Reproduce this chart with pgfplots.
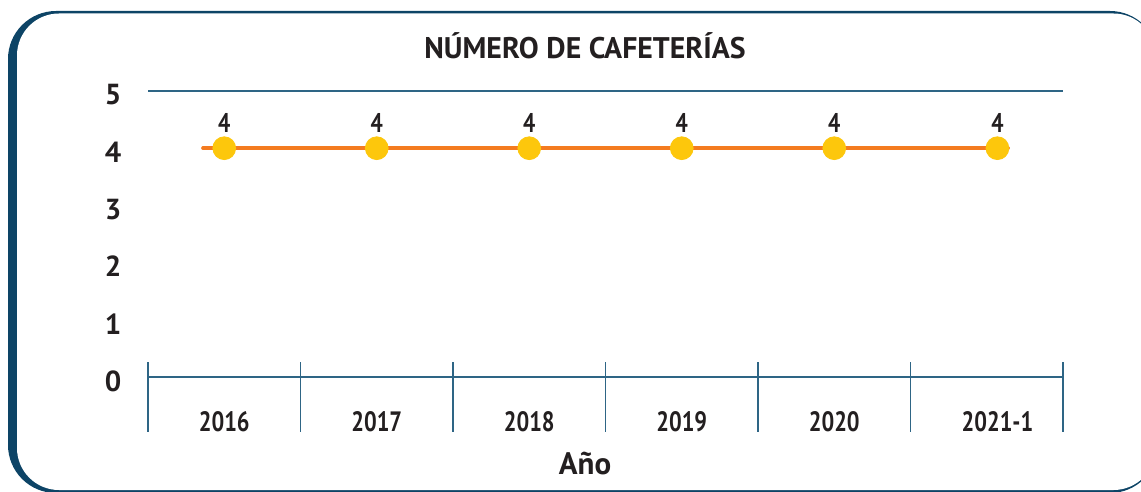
\documentclass[border=0pt]{standalone}
\usepackage{pgfplots}
\pgfplotsset{compat=1.18}
\usepackage{fontspec}
\setmainfont{PT Sans}
\newfontfamily\cond[FakeStretch=0.8]{PT Sans}
\definecolor{navy}{HTML}{0D4466}
\definecolor{gridblue}{HTML}{2E6585}
\definecolor{lineorange}{HTML}{F47B20}
\definecolor{dotyellow}{HTML}{FDC70C}
\definecolor{textdark}{HTML}{231F20}
\begin{document}
\begin{tikzpicture}
\useasboundingbox (0,0) rectangle (570.5pt,-246pt);
\begin{scope}[x=0.5pt,y=-0.5pt]
  \clip (0,0) rectangle (1141,492);
  \fill[navy] (8,11) [rounded corners=24pt] rectangle (1158,493);
  \fill[white] (17,13.5) [rounded corners=21pt] rectangle (1155.5,490);
  \node[text=textdark, font=\bfseries\fontsize{14.9}{17}\selectfont] at (585,46) {NÚMERO DE CAFETERÍAS};
  \node[text=textdark, font=\bfseries\fontsize{15.5}{18}\selectfont] at (585,464) {Año};
\end{scope}
\begin{axis}[
  at={(74pt,-188.5pt)}, anchor=south west,
  scale only axis, width=457.5pt, height=143pt,
  xmin=0, xmax=6, ymin=0, ymax=5,
  axis x line*=bottom, axis y line*=left,
  axis line style={-},
  y axis line style={draw=none},
  x axis line style={draw=gridblue, line width=0.9pt},
  major tick length=0pt,
  tick style={draw=none},
  ytick={0,1,2,3,4,5},
  xtick={0.5,1.5,2.5,3.5,4.5,5.57},
  xticklabels={2016,2017,2018,2019,2020,2021-1},
  yticklabel style={anchor=center, xshift=-17.5pt, yshift=-2pt, text=textdark, font=\bfseries\fontsize{14.5}{17}\selectfont},
  xticklabel style={anchor=center, yshift=-22.5pt, text=textdark, font=\cond\bfseries\fontsize{14}{16}\selectfont},
  /pgf/number format/assume math mode=true,
  clip=false,
]
\draw[gridblue, line width=0.85pt] (axis cs:0,5) -- (axis cs:6,5);
\pgfplotsinvokeforeach{0,1,2,3,4,5,6}{
  \draw[gridblue, line width=0.75pt] ([yshift=7.5pt]axis cs:#1,0) -- ([yshift=-27.5pt]axis cs:#1,0);
}
\addplot[only marks, mark=*, mark size=5.7pt, color=dotyellow,
  nodes near coords, point meta=y,
  every node near coord/.append style={anchor=center, yshift=12.5pt, text=textdark, font=\cond\bfseries\fontsize{13.5}{15}\selectfont,
    /pgf/number format/assume math mode=true}]
  coordinates {(0.5,4) (1.5,4) (2.5,4) (3.5,4) (4.5,4) (5.57,4)};
\addplot[lineorange, line width=1.75pt, line cap=round, mark=none]
  coordinates {(0.36,4) (0.5,4) (1.5,4) (2.5,4) (3.5,4) (4.5,4) (5.57,4) (5.64,4)};
\end{axis}
\end{tikzpicture}
\end{document}
